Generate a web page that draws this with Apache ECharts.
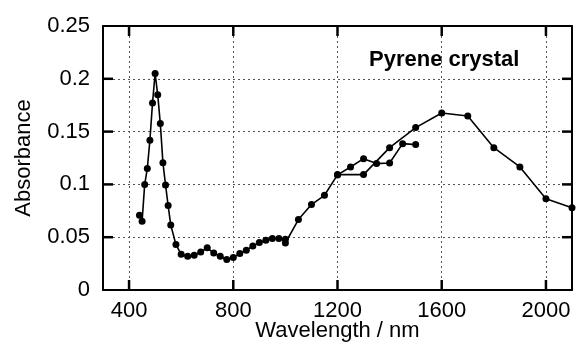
<!DOCTYPE html>
<html>
<head>
<meta charset="utf-8">
<script src="https://cdn.jsdelivr.net/npm/echarts@6/dist/echarts.min.js"></script>
<style>html,body{margin:0;padding:0;background:#fff;}#c{width:581px;height:343px;}</style>
</head>
<body>
<div id="c"></div>
<script>
// Visible-range spectrum
const visX = [440, 450, 460, 470, 480, 490, 500, 510, 520, 530, 540, 550, 560, 580, 600, 625, 650, 675, 700, 725, 750, 775, 800, 825, 850, 875, 900, 925, 950, 975, 1000];
const visY = [0.0707, 0.065, 0.100, 0.115, 0.1418, 0.177, 0.205, 0.185, 0.1576, 0.1206, 0.0995, 0.080, 0.0616, 0.043, 0.0338, 0.0319, 0.0329, 0.036, 0.040, 0.035, 0.0319, 0.0288, 0.0307, 0.0345, 0.0376, 0.0417, 0.0449, 0.047, 0.0487, 0.0487, 0.048];
// NIR range, 50 nm steps
const nirX = [1000, 1050, 1100, 1150, 1200, 1250, 1300, 1350, 1400, 1450, 1500];
const nirY = [0.0445, 0.0667, 0.0809, 0.0897, 0.1090, 0.1165, 0.1244, 0.1197, 0.1203, 0.1386, 0.1377];
// NIR range, 100 nm steps
const irX = [1200, 1300, 1400, 1500, 1600, 1700, 1800, 1900, 2000, 2100];
const irY = [0.1093, 0.1093, 0.1348, 0.1538, 0.1676, 0.1648, 0.1348, 0.1165, 0.0865, 0.078];
const xTicks = [400, 800, 1200, 1600, 2000];
const yTicks = [0.05, 0.1, 0.15, 0.2];
const xMin = 300, xMax = 2100;
const yMin = 0, yMax = 0.25, yStep = 0.05;
const titleText = 'Pyrene crystal';

const pairs = (xs, ys) => xs.map((x, i) => [x, ys[i]]);
const FONT = 'Liberation Sans, Arial, sans-serif';
const FS = 22;
const TL = 10;
const grid = {left: 103, top: 26, right: 9, bottom: 53, outerBoundsMode: 'none', containLabel: false};
const gridLine = {show: true, lineStyle: {color: '#555', width: 1, type: [2, 3]}};
const axLine = {show: true, onZero: false, lineStyle: {color: '#000', width: 2}};

function lineSeries(data) {
  return {
    type: 'line', data: data, symbol: 'circle', symbolSize: 7,
    itemStyle: {color: '#000'}, lineStyle: {color: '#000', width: 1.6},
    animation: false, z: 5
  };
}

// inward tick marks on all four sides, positioned through the axes' scales
function tickLine(x1, y1, x2, y2) {
  return {type: 'line', shape: {x1: x1, y1: y1, x2: x2, y2: y2}, style: {stroke: '#000', fill: null, lineWidth: 2.5}};
}
const xTickSeries = {
  type: 'custom', silent: true, z: 10, clip: false, animation: false,
  data: xTicks.map(v => [v, yMin]),
  renderItem: (params, api) => {
    const b = api.coord([api.value(0), yMin]);
    const t = api.coord([api.value(0), yMax]);
    return {type: 'group', children: [
      tickLine(b[0], b[1], b[0], b[1] - TL),
      tickLine(t[0], t[1], t[0], t[1] + TL)
    ]};
  }
};
const yTickSeries = {
  type: 'custom', silent: true, z: 10, clip: false, animation: false,
  data: yTicks.map(v => [xMin, v]),
  renderItem: (params, api) => {
    const l = api.coord([xMin, api.value(1)]);
    const r = api.coord([xMax, api.value(1)]);
    return {type: 'group', children: [
      tickLine(l[0], l[1], l[0] + TL, l[1]),
      tickLine(r[0], r[1], r[0] - TL, r[1])
    ]};
  }
};

const chart = echarts.init(document.getElementById('c'), null, {renderer: 'canvas'});
chart.setOption({
  animation: false,
  title: {text: titleText, left: 364, top: 44, textStyle: {fontFamily: FONT, fontSize: FS, fontWeight: 'bold', color: '#000'}},
  grid: grid,
  xAxis: [{
    type: 'value', min: xMin, max: xMax, position: 'bottom',
    axisLine: axLine,
    axisTick: {show: false, customValues: xTicks},
    axisLabel: {customValues: xTicks, formatter: v => String(v), color: '#000', fontFamily: FONT, fontSize: FS, margin: 10},
    splitLine: gridLine,
    name: 'Wavelength / nm', nameLocation: 'middle', nameGap: 30, nameMoveOverlap: false,
    nameTextStyle: {color: '#000', fontFamily: FONT, fontSize: FS}
  }, {
    type: 'value', min: xMin, max: xMax, position: 'top',
    axisLine: axLine, axisTick: {show: false},
    axisLabel: {show: false}, splitLine: {show: false}
  }],
  yAxis: [{
    type: 'value', min: yMin, max: yMax, interval: yStep, position: 'left',
    axisLine: axLine, axisTick: {show: false},
    axisLabel: {color: '#000', fontFamily: FONT, fontSize: FS, margin: 13},
    splitLine: gridLine,
    name: 'Absorbance', nameLocation: 'middle', nameGap: 68, nameMoveOverlap: false,
    nameTextStyle: {color: '#000', fontFamily: FONT, fontSize: FS}
  }, {
    type: 'value', min: yMin, max: yMax, interval: yStep, position: 'right',
    axisLine: axLine, axisTick: {show: false},
    axisLabel: {show: false}, splitLine: {show: false}
  }],
  series: [xTickSeries, yTickSeries, lineSeries(pairs(visX, visY)), lineSeries(pairs(nirX, nirY)), lineSeries(pairs(irX, irY))]
});
</script>
</body>
</html>
